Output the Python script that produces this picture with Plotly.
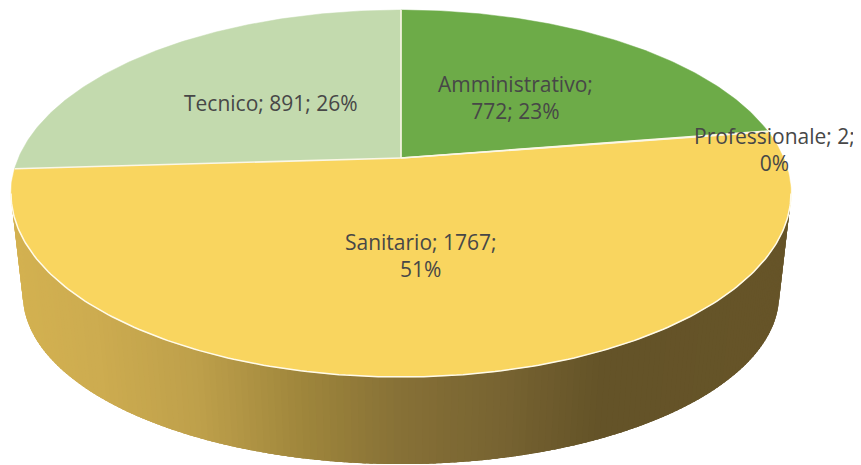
import numpy as np
import plotly.graph_objects as go

categories = ["Amministrativo", "Professionale", "Sanitario", "Tecnico"]
values = [772, 2, 1767, 891]
percent_labels = [23, 0, 51, 26]
slice_colors = ["#6DAB48", "#5B8F3C", "#F9D55F", "#C3DAAE"]
label_breaks = [("Amministrativo;", "{v}; {p}%"), ("Professionale; {v};", "{p}%"),
                ("Sanitario; {v};", "{p}%"), ("Tecnico; {v}; {p}%",)]
label_pos = [(515, 97), (774, 149), (421, 255), (271, 103)]

W, H = 861, 465
PAGE_MARGIN = 8
CX, CY, K = 401.0, 158.0, 0.1935
TOP_A, TOP_B = 382.6, 176.6
BASE_A, BASE_B, BASE_CY = 371.0, 163.0, 262.0
grad_x = [12, 100, 200, 300, 400, 500, 600, 790]
grad_r = [212, 205, 190, 160, 135, 120, 100, 103]
grad_g = [178, 172, 160, 135, 113, 100, 83, 85]
grad_b = [80, 80, 75, 60, 55, 50, 40, 40]


def project(theta, a, b, cy):
    """theta: clockwise from 12 o'clock, radians."""
    X, Y = np.sin(theta), np.cos(theta)
    d = 1 + K * Y
    return CX + a * X / d, cy - b * Y / d


fig = go.Figure()
total = sum(values)

# side wall (front half): strips drawn right to left, each overlapping the next
edge = np.arcsin(K)
side_t = np.linspace(np.pi / 2 + edge, 3 * np.pi / 2 - edge, 181)
end = side_t[-1]
step = side_t[1] - side_t[0]
for t0 in side_t[:-1]:
    t1 = min(t0 + 2.5 * step, end)
    xa, ya = project(np.array([t0, t1]), TOP_A, TOP_B, CY)
    xb, yb = project(np.array([t1, t0]), BASE_A, BASE_B, BASE_CY)
    xm, _ = project(np.array([t0 + step / 2]), (TOP_A + BASE_A) / 2, TOP_B, CY)
    xm = xm[0]
    c = "rgb(%d,%d,%d)" % (np.interp(xm, grad_x, grad_r), np.interp(xm, grad_x, grad_g),
                           np.interp(xm, grad_x, grad_b))
    fig.add_trace(go.Scatter(x=list(xa) + list(xb), y=list(ya) + list(yb), mode="none",
                             fill="toself", fillcolor=c,
                             hoverinfo="skip", showlegend=False))

# top face slices, clockwise from 12 o'clock
cum = 0.0
bounds = []
for cat, val, col in zip(categories, values, slice_colors):
    t0 = cum / total * 2 * np.pi
    cum += val
    t1 = cum / total * 2 * np.pi
    bounds.append(t0)
    t = np.linspace(t0, t1, max(3, int((t1 - t0) * 90)))
    x, y = project(t, TOP_A, TOP_B, CY)
    fig.add_trace(go.Scatter(x=[CX] + list(x) + [CX], y=[CY] + list(y) + [CY], mode="lines",
                             fill="toself", fillcolor=col, line=dict(color=col, width=0.5),
                             name=cat, hoverinfo="skip", showlegend=False))

# white separators between slices
for b in bounds:
    x, y = project(np.array([b]), TOP_A, TOP_B, CY)
    fig.add_trace(go.Scatter(x=[CX, x[0]], y=[CY, y[0]], mode="lines",
                             line=dict(color="#FBF7E6", width=1.6),
                             hoverinfo="skip", showlegend=False))

# pale rim on the front edge
rim_t = np.linspace(np.pi / 2 + edge, 3 * np.pi / 2 - edge, 200)
x, y = project(rim_t, TOP_A, TOP_B, CY)
fig.add_trace(go.Scatter(x=x, y=y, mode="lines", line=dict(color="#FFFBEA", width=1.5),
                         hoverinfo="skip", showlegend=False))

for pct, val, lines, (lx, ly) in zip(percent_labels, values, label_breaks, label_pos):
    text = "<br>".join(s.format(v=val, p=pct) for s in lines)
    fig.add_annotation(x=lx, y=ly, text=text, showarrow=False, xanchor="center", yanchor="middle",
                       font=dict(family="Open Sans", size=21, color="#474747"), align="center")

# the page keeps its 8 px body margin, so the figure covers only the rest of the window
fig.update_layout(width=W - PAGE_MARGIN, height=H - PAGE_MARGIN, margin=dict(l=0, r=0, t=0, b=0),
                  paper_bgcolor="white", plot_bgcolor="white", showlegend=False,
                  xaxis=dict(range=[PAGE_MARGIN, W], visible=False, fixedrange=True),
                  yaxis=dict(range=[H, PAGE_MARGIN], visible=False, fixedrange=True))
fig.write_html("out.html")
